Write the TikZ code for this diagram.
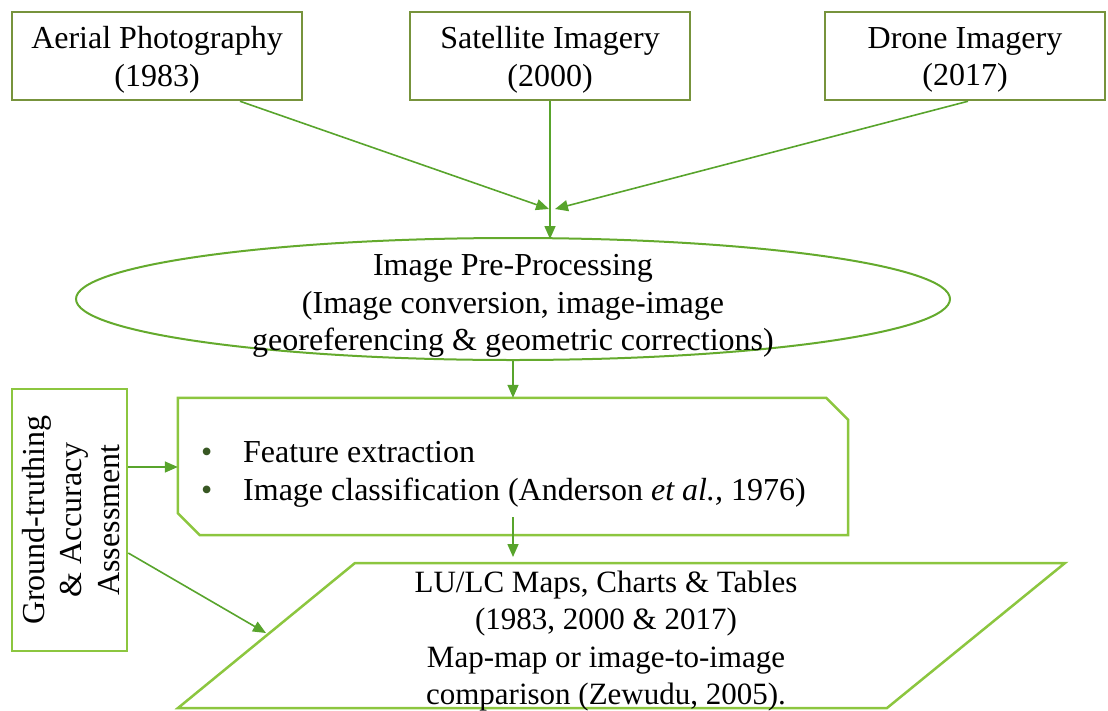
\documentclass[tikz,border=0pt]{standalone}
\usepackage{fontspec}
\setmainfont{Liberation Serif}
\usetikzlibrary{arrows.meta,shapes.geometric}
\definecolor{olivedraw}{RGB}{119,147,60}
\definecolor{leafdraw}{RGB}{140,198,63}
\definecolor{arrowgreen}{RGB}{88,164,44}
\definecolor{ringgreen}{RGB}{100,170,45}
\definecolor{bulletgreen}{RGB}{56,87,35}
\begin{document}
\begin{tikzpicture}[x=1pt,y=-1pt,
  txt/.style={font=\fontsize{32}{37.5}\selectfont, align=center, inner sep=0pt},
  source/.style={draw=olivedraw, line width=2.5pt, minimum height=88pt, inner sep=0pt},
  flowline/.style={draw=arrowgreen, line width=1.6pt, -{Triangle[length=13pt,width=11pt]}},
  greenbox/.style={draw=leafdraw, line width=2.5pt}]
\useasboundingbox (0,0) rectangle (1108,710);

% data sources
\node[source, minimum width=290pt] (aerial) at (157,56) {};
\node[source, minimum width=280pt] (sat) at (550,56) {};
\node[source, minimum width=280pt] (drone) at (965,56) {};
\node[txt] (aerialtext) at ([yshift=-4pt]aerial.center) {Aerial Photography\\(1983)};
\node[txt] (sattext) at ([yshift=-4pt]sat.center) {Satellite Imagery\\(2000)};
\node[txt] (dronetext) at ([yshift=-4pt]drone.center) {Drone Imagery\\(2017)};

% pre-processing
\node[ellipse, draw=ringgreen, line width=2pt, minimum width=874pt, minimum height=122pt, inner sep=0pt] (pre) at (513,299) {};
\node[txt] (pretext) at (513,306) {Image Pre-Processing\\(Image conversion, image-image\\georeferencing \& geometric corrections)};

\coordinate (joinL) at (549,209);
\coordinate (joinR) at (555,209);
\coordinate (preTop) at (550,239);

\draw[flowline] ([xshift=83pt]aerial.south) -- (joinL);
\draw[flowline] ([xshift=3pt]drone.south) -- (joinR);
\draw[flowline] (sat.south) -- (preTop);

% classification step (chamfered box)
\node[minimum width=670pt, minimum height=137pt, inner sep=0pt] (feat) at (513,466.5) {};
\draw[greenbox, line join=miter]
  (feat.north west) -- ([xshift=-22pt]feat.north east) -- ([yshift=-22pt]feat.north east)
  -- (feat.south east) -- ([xshift=22pt]feat.south west) -- ([yshift=22pt]feat.south west) -- cycle;
\node[txt, anchor=west, align=left, font=\fontsize{32}{38}\selectfont] (feattext) at (201,474)
  {\makebox[42pt][l]{\textcolor{bulletgreen}{\textbullet}}Feature extraction\\
   \makebox[42pt][l]{\textcolor{bulletgreen}{\textbullet}}Image classification (Anderson \textit{et al.,} 1976)};

\draw[flowline] (513,361) -- (feat.north);

% outputs
\coordinate (pbl) at (178,708);
\coordinate (pbr) at (887,708);
\coordinate (ptr) at (1065,563);
\coordinate (ptl) at (355,563);
\draw[greenbox, line join=miter] (pbl) -- (pbr) -- (ptr) -- (ptl) -- cycle;
\node[txt, font=\fontsize{31}{37.5}\selectfont] (outtext) at (606,641) {LU/LC Maps, Charts \& Tables\\(1983, 2000 \& 2017)\\Map-map or image-to-image\\comparison (Zewudu, 2005).};

\coordinate (outTop) at (513,557);
\draw[flowline] ([yshift=18pt]feat.south) -- (outTop);

% validation
\node[greenbox, rotate=90, minimum width=262pt, minimum height=115pt, inner sep=0pt] (gt) at (69.5,520) {};
\node[txt, rotate=90] (gttext) at (71,520) {Ground-truthing\\\& Accuracy\\Assessment};
\coordinate (outEdge) at (266,633);
\draw[flowline] ([yshift=53pt]gt.south) -- (feat.west |- 0,467);
\draw[flowline] ([yshift=-33pt]gt.south) -- (outEdge);
\end{tikzpicture}
\end{document}
